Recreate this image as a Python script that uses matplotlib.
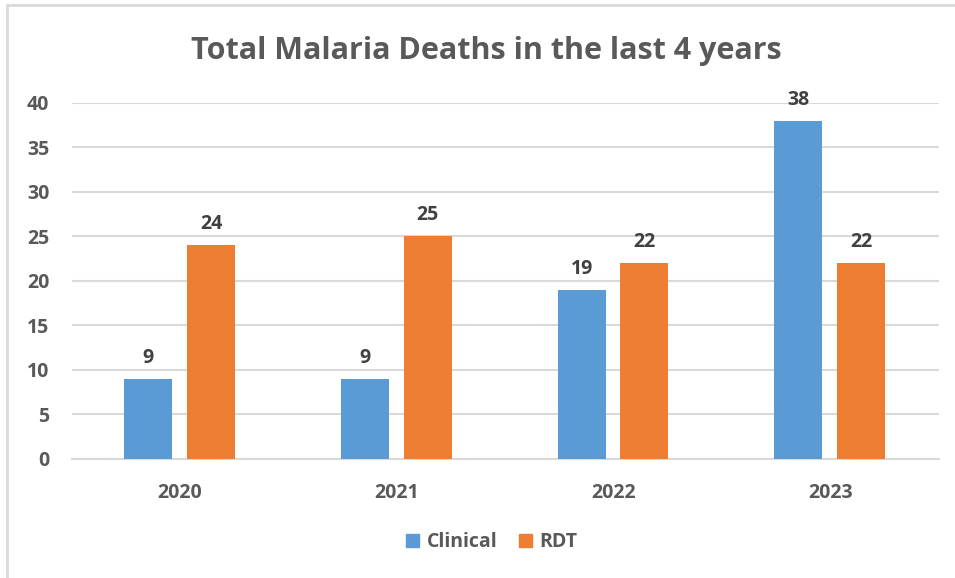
import numpy as np
import matplotlib.pyplot as plt
from matplotlib.patches import Rectangle, Patch

years = ['2020', '2021', '2022', '2023']
clinical = [9, 9, 19, 38]
rdt = [24, 25, 22, 22]

plt.rcParams['font.family'] = ['Open Sans', 'DejaVu Sans']
text_color = '#595959'
grid_color = '#d9d9d9'
blue = '#5b9bd5'
orange = '#ed7d31'

fig = plt.figure(figsize=(9.55, 5.78), dpi=100)
ax = fig.add_axes([0.0749, 0.2059, 0.9079, 0.6159])

# outer chart border (runs off the right and bottom edges)
fig.patches.append(Rectangle((7 / 955, -0.1), 1.2, 1 - 5 / 578 + 0.1,
                             transform=fig.transFigure, fill=False,
                             edgecolor=grid_color, linewidth=2))

x = np.arange(len(years))
w = 0.221
b1 = ax.bar(x - 0.147, clinical, w, color=blue, zorder=3)
b2 = ax.bar(x + 0.143, rdt, w, color=orange, zorder=3)

for bars, vals in ((b1, clinical), (b2, rdt)):
    for r, v in zip(bars, vals):
        ax.annotate(str(v), (r.get_x() + r.get_width() / 2, v),
                    xytext=(0, 8), textcoords='offset points',
                    ha='center', va='bottom', fontsize=14,
                    fontweight='bold', color='#404040')

ax.set_xlim(-0.5, 3.5)
ax.set_ylim(0, 40)
ax.set_yticks(range(0, 41, 5))
ax.set_xticks(x)
ax.set_xticklabels(years)
ax.yaxis.grid(True, color=grid_color, linewidth=1.5, zorder=0)
ax.set_axisbelow(True)
for s in ['top', 'right', 'left']:
    ax.spines[s].set_visible(False)
ax.spines['bottom'].set_color(grid_color)
ax.spines['bottom'].set_linewidth(1.5)
ax.tick_params(axis='both', length=0, labelsize=14, labelcolor=text_color)
ax.tick_params(axis='y', pad=16)
ax.tick_params(axis='x', pad=17)
for lbl in ax.get_xticklabels() + ax.get_yticklabels():
    lbl.set_fontweight('bold')

fig.text(0.509, 0.912, 'Total Malaria Deaths in the last 4 years',
         ha='center', va='center', fontsize=22, fontweight='bold',
         color=text_color)

handles = [Patch(color=blue, label='Clinical'), Patch(color=orange, label='RDT')]
leg = fig.legend(handles=handles, loc='center', bbox_to_anchor=(0.515, 0.062),
                 ncol=2, frameon=False, handlelength=0.65, handleheight=0.65,
                 handletextpad=0.4, columnspacing=1.1,
                 prop={'size': 14, 'weight': 'bold'})
for t in leg.get_texts():
    t.set_color(text_color)

fig.savefig('out.png', dpi=100)
